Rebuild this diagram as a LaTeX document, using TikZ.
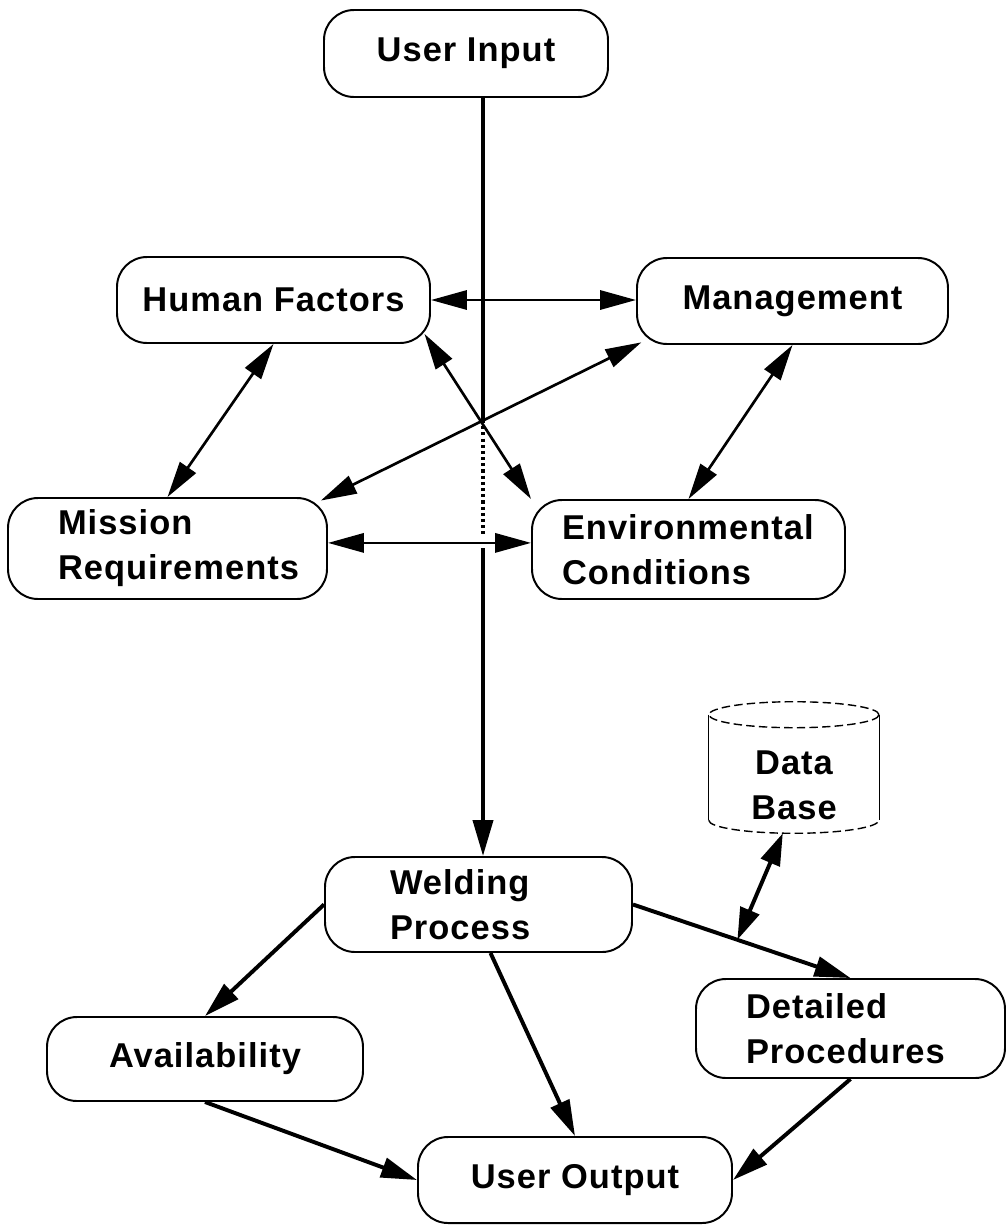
\documentclass[tikz,border=0pt]{standalone}
\usepackage{fontspec}
\setmainfont{Liberation Sans}[LetterSpace=3]
\usetikzlibrary{arrows.meta, positioning, calc}

\tikzset{
  blob/.style={draw, line width=1.4pt, rounded corners=0.75cm, inner sep=0pt, font=\bfseries\fontsize{24.5}{32}\selectfont},
  link/.style={line width=2.8pt, -{Triangle[length=0.9cm, width=0.5cm]}},
  tie/.style={line width=1.9pt, {Triangle[length=0.9cm, width=0.48cm]}-{Triangle[length=0.9cm, width=0.48cm]}},
  dbline/.style={line width=1pt, dash pattern=on 6pt off 3pt},
}

\begin{document}
\begin{tikzpicture}
  \useasboundingbox (0,0) rectangle (25.15,-30.65);

  % input
  \node[blob, minimum width=7.1cm, minimum height=2.175cm] (ui) at (11.65,-1.3375) {User Input};

  % factors
  \node[blob, minimum width=7.825cm, minimum height=2.15cm] (hf) at (6.8375,-7.5) {Human Factors};
  \node[blob, minimum width=7.775cm, minimum height=2.15cm] (mg) at (19.8125,-7.525) {Management};
  \node[blob, minimum width=7.975cm, minimum height=2.525cm, text width=5.475cm, align=left] (mr) at (4.1875,-13.7125) {Mission\\Requirements};
  \node[blob, minimum width=7.825cm, minimum height=2.475cm, text width=6.325cm, align=left] (er) at (17.2125,-13.7375) {Environmental\\Conditions};

  % data base
  \node[minimum width=4.25cm, minimum height=2.4cm, inner sep=0pt, align=center, font=\bfseries\fontsize{24.5}{32}\selectfont] (db) at (19.85,-19.625) {Data\\Base};
  \draw[dbline] ([yshift=0.55cm]db.north) ellipse [x radius=2.125cm, y radius=0.325cm];
  \draw[line width=1pt] ([yshift=0.55cm]db.north west) -- ([yshift=0.325cm]db.south west);
  \draw[line width=1pt] ([yshift=0.55cm]db.north east) -- ([yshift=0.325cm]db.south east);
  \draw[dbline] ([yshift=0.325cm]db.south west) arc[start angle=180, end angle=360, x radius=2.125cm, y radius=0.325cm];

  % process and results
  \node[blob, minimum width=7.675cm, minimum height=2.375cm, text width=4.425cm, align=left] (wp) at (11.9625,-22.6125) {Welding\\Process};
  \node[blob, minimum width=7.9cm, minimum height=2.1cm] (av) at (5.125,-26.475) {Availability};
  \node[blob, minimum width=7.725cm, minimum height=2.475cm, text width=5.225cm, align=left] (dp) at (21.2625,-25.7125) {Detailed\\Procedures};
  \node[blob, minimum width=7.85cm, minimum height=2.15cm] (uo) at (14.375,-29.5) {User Output};

  % main line
  \coordinate (hub) at (12.075,-10.5);
  \coordinate (gap) at (12.075,-13.7);
  \draw[line width=2.8pt] (ui.south -| hub) -- (hub);
  \draw[line width=2.8pt, dash pattern=on 2.2pt off 2.2pt] (hub) -- ([yshift=0.275cm]gap);
  \draw[link] (gap) -- (wp.north -| hub);

  % ties between factors
  \draw[tie] (hf.east) -- (hf.east -| mg.west);
  \draw[tie] ([yshift=0.14cm]mr.east) -- ([yshift=0.14cm]mr.east -| er.west);
  \draw[tie] (hf.south) -- (mr.north);
  \draw[tie] (mg.south) -- (er.north);
  \draw[tie, shorten <=-0.3cm] (hf.south east) -- (er.north west);
  \draw[tie, shorten <=-0.2cm, shorten >=-0.15cm] (mr.north east) -- (mg.south west);

  % results
  \draw[link] (wp.west) -- (av.north);
  \draw[link] ([xshift=0.3cm]wp.south) -- (uo.north);
  \draw[link] (wp.east) -- coordinate[pos=0.48] (tap) (dp.north);
  \draw[link] (av.south) -- (uo.west);
  \draw[link] (dp.south) -- (uo.east);
  \draw[line width=2.8pt, {Triangle[length=0.8cm, width=0.5cm]}-{Triangle[length=0.8cm, width=0.5cm]}] ([xshift=-0.28cm]db.south) -- (tap);
\end{tikzpicture}
\end{document}
